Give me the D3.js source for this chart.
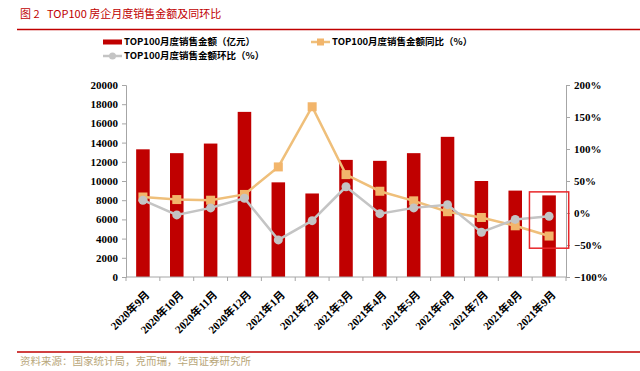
<!DOCTYPE html>
<html>
<head>
<meta charset="utf-8">
<script src="https://cdn.jsdelivr.net/npm/d3@7"></script>
<style>
  body { margin: 0; background: #fff; }
  svg { display: block; }
  .axis path, .axis line { stroke: #a6a6a6; }
  .axis text { font-family: "Liberation Serif", "Noto Sans CJK SC", serif; font-weight: bold; font-size: 11px; fill: #000; }
</style>
</head>
<body>
<script>
// Chart data
var months = ["2020年9月", "2020年10月", "2020年11月", "2020年12月", "2021年1月", "2021年2月", "2021年3月",
  "2021年4月", "2021年5月", "2021年6月", "2021年7月", "2021年8月", "2021年9月"];
var sales = [13300, 12900, 13900, 17200, 9860, 8700, 12200, 12100, 12900, 14600, 10000, 9000, 8500];
var yoy = [0.25, 0.21, 0.20, 0.29, 0.72, 1.66, 0.60, 0.34, 0.19, 0.02, -0.07, -0.20, -0.36];
var mom = [0.20, -0.03, 0.08, 0.23, -0.42, -0.12, 0.41, -0.01, 0.08, 0.13, -0.30, -0.10, -0.05];
var leftTicks = [0, 2000, 4000, 6000, 8000, 10000, 12000, 14000, 16000, 18000, 20000];
var rightTicks = [-1, -0.5, 0, 0.5, 1, 1.5, 2];
var highlightRange = [-0.55, 0.33];

var svgWidth = 640;
var svgHeight = 371;
var margin = { top: 85, right: 74, bottom: 94, left: 126 };
var chartWidth = svgWidth - margin.left - margin.right;
var chartHeight = svgHeight - margin.top - margin.bottom;

var cnFont = "'Noto Sans CJK SC', sans-serif";
var red = "#c00000";
var tan = "#efbf7a";
var grey = "#c4c4c4";

var svg = d3.select("body").append("svg")
  .attr("width", svgWidth)
  .attr("height", svgHeight);

// Title and header rule
var title = svg.append("text")
  .attr("y", 18)
  .attr("font-family", cnFont)
  .attr("font-size", 11)
  .attr("fill", red);
title.append("tspan").attr("x", 20).text("图 2");
title.append("tspan").attr("x", 47).text("TOP100 房企月度销售金额及同环比");
svg.append("line")
  .attr("x1", 17).attr("x2", 640).attr("y1", 29.5).attr("y2", 29.5)
  .attr("stroke", red).attr("stroke-width", 1.5);

// Footer
svg.append("line")
  .attr("x1", 17).attr("x2", 640).attr("y1", 352).attr("y2", 352)
  .attr("stroke", red).attr("stroke-width", 1.5);
svg.append("text")
  .attr("x", 20).attr("y", 365)
  .attr("font-family", cnFont)
  .attr("font-size", 10.5)
  .attr("fill", "#b9a77a")
  .text("资料来源：国家统计局，克而瑞，华西证券研究所");

var chartGroup = svg.append("g")
  .attr("transform", `translate(${margin.left}, ${margin.top})`);

// Scales
var xScale = d3.scaleBand()
  .domain(months)
  .range([0, chartWidth])
  .paddingInner(0.6)
  .paddingOuter(0.3);
var yLeft = d3.scaleLinear().domain([0, 20000]).range([chartHeight, 0]);
var yRight = d3.scaleLinear().domain([-1, 2]).range([chartHeight, 0]);

var step = chartWidth / months.length;
var cx = d => xScale(d) + xScale.bandwidth() / 2;

// Bars
chartGroup.selectAll(".bar")
  .data(months)
  .enter().append("rect")
  .attr("x", d => xScale(d))
  .attr("width", xScale.bandwidth())
  .attr("y", (d, i) => yLeft(sales[i]))
  .attr("height", (d, i) => chartHeight - yLeft(sales[i]))
  .attr("fill", red);

// Axes
var leftAxis = d3.axisLeft(yLeft).tickValues(leftTicks).tickSize(4).tickPadding(4).tickFormat(d3.format("d"));
chartGroup.append("g").classed("axis", true).call(leftAxis);

var rightAxis = d3.axisRight(yRight).tickValues(rightTicks).tickSize(4).tickPadding(4).tickFormat(d3.format(".0%"));
chartGroup.append("g").classed("axis", true)
  .attr("transform", `translate(${chartWidth}, 0)`)
  .call(rightAxis);

// Bottom axis with ticks at category boundaries
var bottom = chartGroup.append("g").classed("axis", true)
  .attr("transform", `translate(0, ${chartHeight})`);
bottom.append("line").attr("x1", 0).attr("x2", chartWidth).attr("stroke", "#a6a6a6");
bottom.selectAll(".btick")
  .data(d3.range(months.length + 1))
  .enter().append("line")
  .attr("x1", i => i * step).attr("x2", i => i * step)
  .attr("y1", 0).attr("y2", 4)
  .attr("stroke", "#a6a6a6");
bottom.selectAll(".blabel")
  .data(months)
  .enter().append("text")
  .attr("transform", d => `translate(${cx(d) + 2}, 13) rotate(-45)`)
  .attr("text-anchor", "end")
  .attr("dy", "0.7em")
  .attr("font-size", 10)
  .text(d => d);

// Lines
function drawSeries(values, color, marker) {
  var line = d3.line()
    .x((d, i) => cx(months[i]))
    .y(d => yRight(d));
  chartGroup.append("path")
    .attr("d", line(values))
    .attr("fill", "none")
    .attr("stroke", color)
    .attr("stroke-width", 2.5);
  var pts = chartGroup.selectAll(null).data(values).enter();
  if (marker === "square") {
    pts.append("rect")
      .attr("x", (d, i) => cx(months[i]) - 4.5)
      .attr("y", d => yRight(d) - 4.5)
      .attr("width", 9).attr("height", 9)
      .attr("fill", "#f2b56b");
  } else {
    pts.append("circle")
      .attr("cx", (d, i) => cx(months[i]))
      .attr("cy", d => yRight(d))
      .attr("r", 4.5)
      .attr("fill", grey);
  }
}
drawSeries(yoy, tan, "square");
drawSeries(mom, grey, "circle");

// Highlight box around the latest month
var last = months[months.length - 1];
chartGroup.append("rect")
  .attr("x", cx(last) - step * 0.58)
  .attr("width", step * 1.16)
  .attr("y", yRight(highlightRange[1]))
  .attr("height", yRight(highlightRange[0]) - yRight(highlightRange[1]))
  .attr("fill", "none")
  .attr("stroke", "#e8262a")
  .attr("stroke-width", 1.5);

// Legend
var legend = svg.append("g")
  .attr("font-family", cnFont)
  .attr("font-weight", "bold")
  .attr("font-size", 9.5);

var l1 = legend.append("g").attr("transform", "translate(103, 42)");
l1.append("rect").attr("x", 0).attr("y", -2.5).attr("width", 19).attr("height", 5).attr("fill", red);
l1.append("text").attr("x", 21).attr("dy", "0.35em").text("TOP100月度销售金额（亿元）");

var l2 = legend.append("g").attr("transform", "translate(311, 42)");
l2.append("line").attr("x1", 0).attr("x2", 19).attr("stroke", tan).attr("stroke-width", 2.5);
l2.append("rect").attr("x", 6).attr("y", -3.5).attr("width", 7).attr("height", 7).attr("fill", "#f2b56b");
l2.append("text").attr("x", 21).attr("dy", "0.35em").text("TOP100月度销售金额同比（%）");

var l3 = legend.append("g").attr("transform", "translate(103, 56)");
l3.append("line").attr("x1", 0).attr("x2", 19).attr("stroke", grey).attr("stroke-width", 2.5);
l3.append("circle").attr("cx", 9.5).attr("r", 3.5).attr("fill", grey);
l3.append("text").attr("x", 21).attr("dy", "0.35em").text("TOP100月度销售金额环比（%）");
</script>
</body>
</html>
